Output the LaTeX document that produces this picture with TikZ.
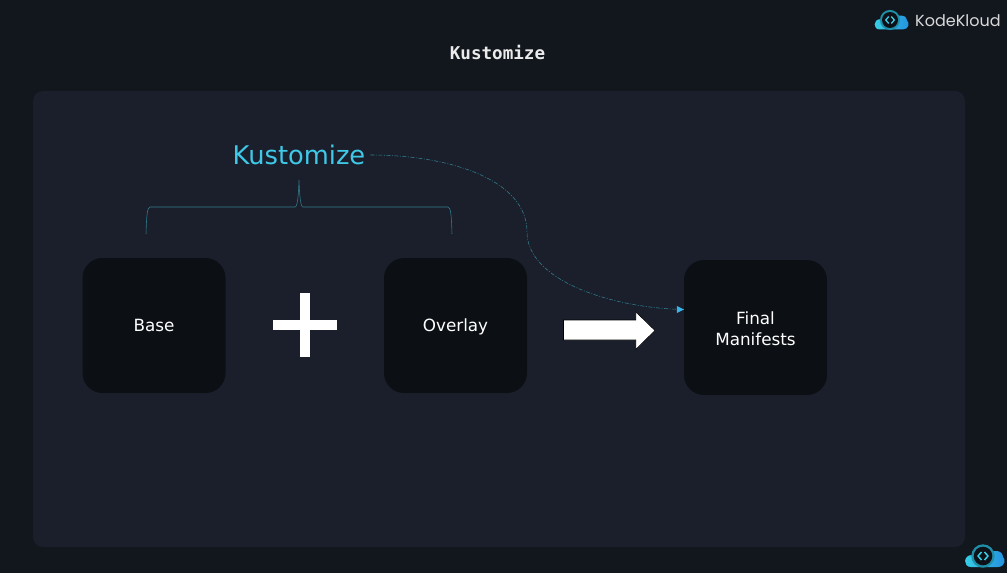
\documentclass[tikz,border=0pt]{standalone}
\usepackage{fontspec}
\setmainfont{DejaVu Sans}
\newfontfamily\titlefont{DejaVu Sans Mono}
\newfontfamily\logofont{Poppins}
\usetikzlibrary{arrows.meta,shapes.arrows}
\definecolor{pagebg}{HTML}{12171E}
\definecolor{panelbg}{HTML}{1A1F2B}
\definecolor{boxbg}{HTML}{0C1015}
\definecolor{cyantext}{HTML}{3FC8E8}
\definecolor{wirecol}{HTML}{337F8F}
\definecolor{logolight}{HTML}{38D0E8}
\definecolor{logodeep}{HTML}{2490E0}
\definecolor{logoring}{HTML}{1F8FA8}
\tikzset{
  x=1pt,y=-1pt,
  darkbox/.style={draw=none,fill=boxbg,rounded corners=20pt,minimum width=143pt,minimum height=135pt,inner sep=0pt,text=white,font=\fontsize{16.8}{21}\selectfont,align=center},
  wire/.style={draw=wirecol,line width=0.55pt},
  cloudfill/.style={left color=logolight,right color=logodeep,draw=none},
}
\newcommand{\onelinestrut}{\rule[-4pt]{0pt}{20pt}}
\newcommand{\logomark}[3]{%
  \begin{scope}[shift={(#1,#2)},scale=#3]
    \path[cloudfill] (-12,11) .. controls (-20,11) and (-20,-1) .. (-11,-1)
      -- (0,-5) -- (14,-5) .. controls (18,-5) and (20,-1) .. (20,1)
      .. controls (23,3) and (22,11) .. (15,11) -- cycle;
    \fill[logoring] (0,0) circle (11.7);
    \fill[boxbg!70!pagebg] (0,0) circle (9.3);
    \draw[logolight,line width=#3*1.5pt,line join=round] (-1.5,-4) -- (-5,0) -- (-1.5,4);
    \draw[logolight,line width=#3*1.5pt,line join=round] (1.5,-4) -- (5,0) -- (1.5,4);
  \end{scope}}
\begin{document}
\begin{tikzpicture}
  \useasboundingbox (0,0) rectangle (1007,573);
  \fill[pagebg] (0,0) rectangle (1007,573);
  \fill[panelbg,rounded corners=10pt] (33,91) rectangle (965,547);

  \node[text=white!92!black,font=\titlefont\bfseries\fontsize{17.6}{20}\selectfont,inner sep=0pt] (title) at (497.5,52) {Kustomize};

  \logomark{890}{20}{0.86}
  \node[text=white!85!black,font=\logofont\fontsize{16}{20}\selectfont,anchor=west,inner sep=0pt] (brand) at (915,20.5) {KodeKloud};
  \logomark{983}{556}{1}

  \node[darkbox] (base) at (154,325.5) {\onelinestrut Base};
  \node[darkbox] (overlay) at (455.5,325.5) {\onelinestrut Overlay};
  \node[darkbox] (final) at (755.5,327.5) {\rule{0pt}{16pt}Final\\Manifests\rule[-2pt]{0pt}{2pt}};

  \node[text=cyantext,font=\fontsize{25.7}{30}\selectfont,inner sep=0pt] (kust) at (299,154.5) {Kustomize};

  % brace
  \coordinate (braceL) at (146,234);
  \coordinate (braceR) at (452,234);
  \coordinate (braceT) at (299,180);
  \draw[wire] (braceL) .. controls (146.5,218) and (147,207) .. (150,207)
    -- (295,207) .. controls (297.5,207) and (298.5,195) .. (braceT)
    .. controls (299.5,195) and (300.5,207) .. (303,207)
    -- (448,207) .. controls (451,207) and (451.5,218) .. (braceR);

  % curved link
  \draw[wire,dash pattern=on 4pt off 1.5pt on 1pt off 1.5pt] (kust.east) ++(5,0.5) .. controls +(80,0) and (527,180) .. (527,232)
    .. controls (527,280) and (610,308) .. (final.west |- 0,309.5);
  \fill[cyantext!90!blue] (final.west |- 0,309.5) -- ++(-7,-3.5) -- ++(0,7) -- cycle;

  % plus
  \fill[white] (272.7,320) rectangle (337,329.5);
  \fill[white] (299.7,292.7) rectangle (309.7,357);

  % block arrow
  \draw[black,line width=0.6pt,fill=white,line join=miter] (563.5,320) -- (635.7,320) -- (635.7,311.7) -- (655,330.5) -- (635.7,349.5) -- (635.7,340) -- (563.5,340) -- cycle;
\end{tikzpicture}
\end{document}
